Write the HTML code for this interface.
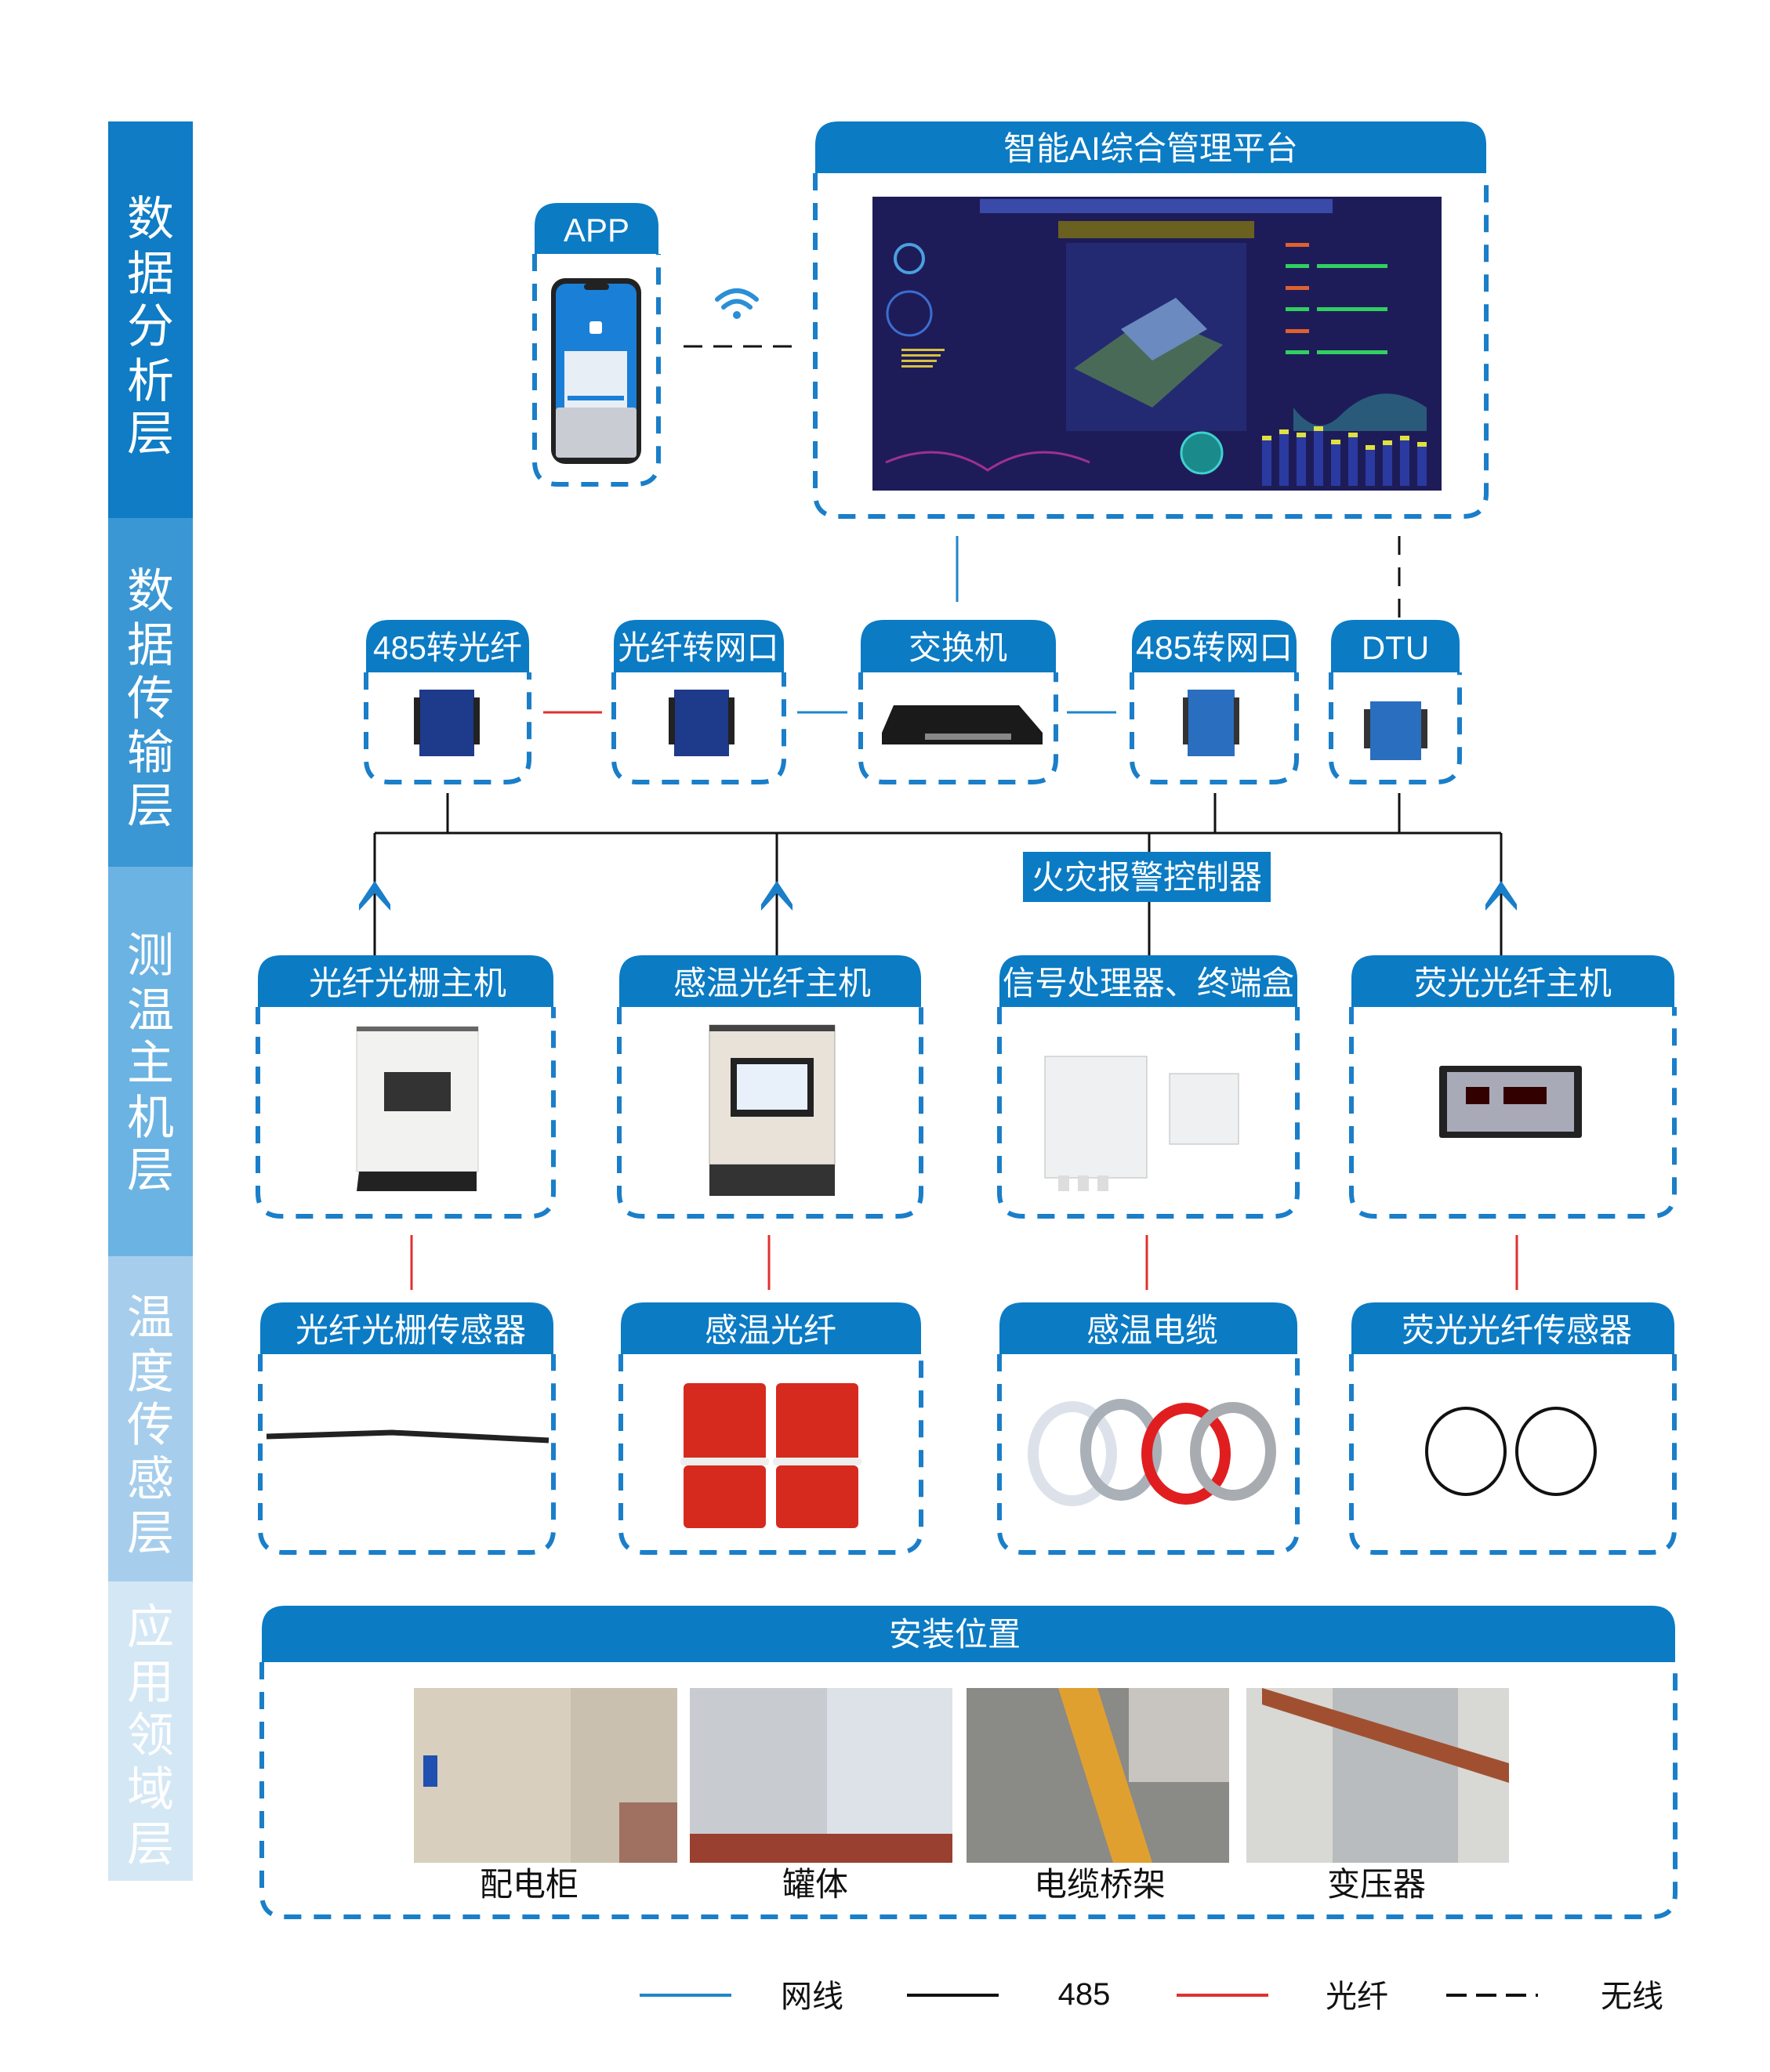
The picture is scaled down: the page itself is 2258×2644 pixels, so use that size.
<!DOCTYPE html>
<html><head><meta charset="utf-8"><style>
html,body{margin:0;padding:0;background:#fff;}
svg{display:block;}
text{font-family:"Liberation Sans","Noto Sans CJK SC",sans-serif;}
</style></head><body>
<svg width="2258" height="2644" viewBox="0 0 2258 2644" xmlns="http://www.w3.org/2000/svg">
<rect width="2258" height="2644" fill="#fff"/>
<rect x="138" y="155" width="108" height="506" fill="#0f7cc5"/>
<rect x="138" y="661" width="108" height="445" fill="#3a97d4"/>
<rect x="138" y="1106" width="108" height="497" fill="#6bb3e3"/>
<rect x="138" y="1603" width="108" height="415" fill="#a6ceec"/>
<rect x="138" y="2018" width="108" height="382" fill="#d4e7f5"/>
<g fill="#fff" font-size="60" text-anchor="middle">
<text x="192" y="300">数</text><text x="192" y="370">据</text><text x="192" y="437">分</text><text x="192" y="507">析</text><text x="192" y="574">层</text>
<text x="192" y="775">数</text><text x="192" y="844">据</text><text x="192" y="912">传</text><text x="192" y="981">输</text><text x="192" y="1049">层</text>
<text x="192" y="1240">测</text><text x="192" y="1310">温</text><text x="192" y="1377">主</text><text x="192" y="1447">机</text><text x="192" y="1514">层</text>
<text x="192" y="1702">温</text><text x="192" y="1771">度</text><text x="192" y="1839">传</text><text x="192" y="1908">感</text><text x="192" y="1977">层</text>
<text x="192" y="2097">应</text><text x="192" y="2167">用</text><text x="192" y="2235">领</text><text x="192" y="2304">域</text><text x="192" y="2374">层</text>
</g>

<g fill="#0b7bc4">
<path d="M682,324 V289 Q682,259 712,259 H810 Q840,259 840,289 V324 Z"/>
<path d="M1040,221 V185 Q1040,155 1070,155 H1866 Q1896,155 1896,185 V221 Z"/>
<path d="M467,858 V821 Q467,791 497,791 H645 Q675,791 675,821 V858 Z"/>
<path d="M783,858 V821 Q783,791 813,791 H970 Q1000,791 1000,821 V858 Z"/>
<path d="M1098,858 V821 Q1098,791 1128,791 H1317 Q1347,791 1347,821 V858 Z"/>
<path d="M1444,858 V821 Q1444,791 1474,791 H1624 Q1654,791 1654,821 V858 Z"/>
<path d="M1698,858 V821 Q1698,791 1728,791 H1832 Q1862,791 1862,821 V858 Z"/>
<path d="M329,1285 V1249 Q329,1219 359,1219 H676 Q706,1219 706,1249 V1285 Z"/>
<path d="M790,1285 V1249 Q790,1219 820,1219 H1145 Q1175,1219 1175,1249 V1285 Z"/>
<path d="M1275,1285 V1249 Q1275,1219 1305,1219 H1625 Q1655,1219 1655,1249 V1285 Z"/>
<path d="M1724,1285 V1249 Q1724,1219 1754,1219 H2106 Q2136,1219 2136,1249 V1285 Z"/>
<path d="M332,1728 V1692 Q332,1662 362,1662 H676 Q706,1662 706,1692 V1728 Z"/>
<path d="M792,1728 V1692 Q792,1662 822,1662 H1145 Q1175,1662 1175,1692 V1728 Z"/>
<path d="M1275,1728 V1692 Q1275,1662 1305,1662 H1625 Q1655,1662 1655,1692 V1728 Z"/>
<path d="M1724,1728 V1692 Q1724,1662 1754,1662 H2106 Q2136,1662 2136,1692 V1728 Z"/>
<path d="M334,2121 V2079 Q334,2049 364,2049 H2107 Q2137,2049 2137,2079 V2121 Z"/>
</g>
<g fill="none" stroke="#1a7ec9" stroke-width="6" stroke-dasharray="22 16">
<path d="M682,324 V588 Q682,618 712,618 H810 Q840,618 840,588 V324"/>
<path d="M1040,221 V629 Q1040,659 1070,659 H1866 Q1896,659 1896,629 V221"/>
<path d="M467,858 V968 Q467,998 497,998 H645 Q675,998 675,968 V858"/>
<path d="M783,858 V968 Q783,998 813,998 H970 Q1000,998 1000,968 V858"/>
<path d="M1098,858 V968 Q1098,998 1128,998 H1317 Q1347,998 1347,968 V858"/>
<path d="M1444,858 V968 Q1444,998 1474,998 H1624 Q1654,998 1654,968 V858"/>
<path d="M1698,858 V968 Q1698,998 1728,998 H1832 Q1862,998 1862,968 V858"/>
<path d="M329,1285 V1522 Q329,1552 359,1552 H676 Q706,1552 706,1522 V1285"/>
<path d="M790,1285 V1522 Q790,1552 820,1552 H1145 Q1175,1552 1175,1522 V1285"/>
<path d="M1275,1285 V1522 Q1275,1552 1305,1552 H1625 Q1655,1552 1655,1522 V1285"/>
<path d="M1724,1285 V1522 Q1724,1552 1754,1552 H2106 Q2136,1552 2136,1522 V1285"/>
<path d="M332,1728 V1951 Q332,1981 362,1981 H676 Q706,1981 706,1951 V1728"/>
<path d="M792,1728 V1951 Q792,1981 822,1981 H1145 Q1175,1981 1175,1951 V1728"/>
<path d="M1275,1728 V1951 Q1275,1981 1305,1981 H1625 Q1655,1981 1655,1951 V1728"/>
<path d="M1724,1728 V1951 Q1724,1981 1754,1981 H2106 Q2136,1981 2136,1951 V1728"/>
<path d="M334,2121 V2416 Q334,2446 364,2446 H2107 Q2137,2446 2137,2416 V2121"/>
</g>
<g fill="#fff" font-size="42" text-anchor="middle">
<text x="761" y="308">APP</text>
<text x="1468" y="204">智能AI综合管理平台</text>
<text x="571" y="841" textLength="190" lengthAdjust="spacingAndGlyphs">485转光纤</text>
<text x="891" y="841" textLength="205" lengthAdjust="spacingAndGlyphs">光纤转网口</text>
<text x="1222" y="841">交换机</text>
<text x="1549" y="841" textLength="200" lengthAdjust="spacingAndGlyphs">485转网口</text>
<text x="1780" y="841">DTU</text>
<text x="520" y="1269">光纤光栅主机</text>
<text x="985" y="1269">感温光纤主机</text>
<text x="1465" y="1269" textLength="372" lengthAdjust="spacingAndGlyphs">信号处理器、终端盒</text>
<text x="1930" y="1269">荧光光纤主机</text>
<text x="524" y="1712">光纤光栅传感器</text>
<text x="983" y="1712">感温光纤</text>
<text x="1470" y="1712">感温电缆</text>
<text x="1935" y="1712">荧光光纤传感器</text>
<text x="1218" y="2100">安装位置</text>
</g>

<g stroke="#111" stroke-width="3" fill="none">
<path d="M478,1063 H1915"/>
<path d="M571,1012 V1063 M1550,1012 V1063 M1785,1012 V1063"/>
<path d="M478,1063 V1219 M991,1063 V1219 M1915,1063 V1219"/>
<path d="M1466,1063 V1087 M1466,1151 V1219"/>
<path d="M1785,684 V791" stroke-dasharray="24 16"/>
<path d="M872,442 H1012" stroke-dasharray="24 14"/>
</g>
<g stroke="#1f86c9" stroke-width="3">
<path d="M1221,684 V768 M1017,909 H1081 M1361,909 H1424"/>
</g>
<g stroke="#e03030" stroke-width="3">
<path d="M693,909 H768 M525,1576 V1646 M981,1576 V1646 M1463,1576 V1646 M1935,1576 V1646"/>
</g>
<g fill="#1a7ec9">
<path d="M458,1154 L478,1124 L498,1154 L498,1162 L478,1140 L458,1162 Z"/>
<path d="M971,1154 L991,1124 L1011,1154 L1011,1162 L991,1140 L971,1162 Z"/>
<path d="M1895,1154 L1915,1124 L1935,1154 L1935,1162 L1915,1140 L1895,1162 Z"/>
</g>
<rect x="1305" y="1087" width="316" height="64" fill="#0b7bc4"/>
<text x="1463" y="1134" fill="#fff" font-size="42" text-anchor="middle">火灾报警控制器</text>

<g fill="none" stroke="#2a8fd6" stroke-width="6" stroke-linecap="round">
<path d="M915,382 Q940,360 965,382"/>
<path d="M923,392 Q940,377 957,392"/>
</g>
<circle cx="940" cy="402" r="5" fill="#2a8fd6"/>

<rect x="703" y="355" width="115" height="237" rx="18" fill="#222"/>
<rect x="709" y="362" width="103" height="222" rx="13" fill="#1a7fd6"/>
<rect x="709" y="520" width="103" height="64" rx="4" fill="#c9ccd3"/>
<rect x="720" y="448" width="80" height="72" fill="#e8eef6"/>
<rect x="724" y="505" width="72" height="6" fill="#1a7fd6"/>
<rect x="752" y="410" width="16" height="16" rx="3" fill="#fff"/>
<rect x="745" y="362" width="32" height="8" rx="4" fill="#222"/>

<rect x="1113" y="251" width="726" height="375" fill="#1e1c58"/>
<rect x="1250" y="254" width="450" height="18" fill="#3a4aa8"/>
<rect x="1350" y="282" width="250" height="22" fill="#6a6020"/>
<rect x="1360" y="310" width="230" height="240" fill="#232a72"/>
<path d="M1370,470 L1470,400 L1560,440 L1470,520 Z" fill="#4a6a58"/>
<path d="M1430,420 L1500,380 L1540,420 L1470,460 Z" fill="#6a8ac0"/>
<circle cx="1160" cy="330" r="18" fill="none" stroke="#4aa0e0" stroke-width="4"/>
<circle cx="1160" cy="400" r="28" fill="none" stroke="#3b6ed0" stroke-width="3"/>
<g fill="#d8c040"><rect x="1150" y="445" width="55" height="3"/><rect x="1150" y="452" width="50" height="3"/><rect x="1150" y="459" width="45" height="3"/><rect x="1150" y="466" width="40" height="3"/></g>
<g fill="#e06030"><rect x="1640" y="310" width="30" height="5"/><rect x="1640" y="365" width="30" height="5"/><rect x="1640" y="420" width="30" height="5"/></g>
<g fill="#30d060"><rect x="1640" y="337" width="30" height="5"/><rect x="1640" y="392" width="30" height="5"/><rect x="1640" y="447" width="30" height="5"/><rect x="1680" y="337" width="90" height="5"/><rect x="1680" y="392" width="90" height="5"/><rect x="1680" y="447" width="90" height="5"/></g>
<path d="M1650,520 Q1680,560 1710,530 Q1760,480 1820,520 V550 H1650 Z" fill="#2a5a7a"/>
<path d="M1130,590 Q1200,560 1260,600 Q1320,560 1390,590" fill="none" stroke="#a03090" stroke-width="3"/>
<circle cx="1533" cy="578" r="26" fill="#1a8a8a" stroke="#40d0d0" stroke-width="3"/>
<g fill="#2a3aa0"><rect x="1610" y="560" width="12" height="60"/><rect x="1632" y="552" width="12" height="68"/><rect x="1654" y="556" width="12" height="64"/><rect x="1676" y="548" width="12" height="72"/><rect x="1698" y="565" width="12" height="55"/><rect x="1720" y="556" width="12" height="64"/><rect x="1742" y="572" width="12" height="48"/><rect x="1764" y="566" width="12" height="54"/><rect x="1786" y="560" width="12" height="60"/><rect x="1808" y="568" width="12" height="52"/></g>
<g fill="#e0e040"><rect x="1610" y="556" width="12" height="6"/><rect x="1632" y="548" width="12" height="6"/><rect x="1654" y="552" width="12" height="6"/><rect x="1676" y="544" width="12" height="6"/><rect x="1698" y="561" width="12" height="6"/><rect x="1720" y="552" width="12" height="6"/><rect x="1742" y="568" width="12" height="6"/><rect x="1764" y="562" width="12" height="6"/><rect x="1786" y="556" width="12" height="6"/><rect x="1808" y="564" width="12" height="6"/></g>

<rect x="535" y="880" width="70" height="85" fill="#1e3a8a"/><rect x="528" y="890" width="8" height="60" fill="#222"/><rect x="604" y="890" width="8" height="60" fill="#222"/>
<rect x="860" y="880" width="70" height="85" fill="#1e3a8a"/><rect x="853" y="890" width="8" height="60" fill="#222"/><rect x="929" y="890" width="8" height="60" fill="#222"/>
<path d="M1125,935 L1140,900 H1300 L1330,935 V950 H1125 Z" fill="#1a1a1a"/><rect x="1180" y="936" width="110" height="8" fill="#888"/>
<rect x="1515" y="880" width="60" height="85" fill="#2a6ec0"/><rect x="1509" y="890" width="7" height="60" fill="#333"/><rect x="1574" y="890" width="7" height="60" fill="#333"/>
<rect x="1748" y="895" width="65" height="75" fill="#2a6ec0"/><rect x="1740" y="905" width="8" height="50" fill="#333"/><rect x="1813" y="905" width="8" height="50" fill="#333"/>

<rect x="455" y="1310" width="155" height="185" fill="#f2f2f0" stroke="#ccc"/><rect x="455" y="1310" width="155" height="6" fill="#666"/>
<rect x="490" y="1368" width="85" height="50" fill="#333"/><path d="M458,1495 H608 V1520 H455 Z" fill="#222"/>
<rect x="905" y="1308" width="160" height="178" fill="#e8e2d8" stroke="#aaa"/><rect x="905" y="1308" width="160" height="8" fill="#444"/>
<rect x="932" y="1350" width="106" height="75" fill="#222"/><rect x="940" y="1358" width="90" height="58" fill="#e8f0fa"/>
<path d="M905,1486 H1065 V1526 H905 Z" fill="#333"/>
<rect x="1333" y="1348" width="130" height="155" fill="#eef0f2" stroke="#bbb"/>
<rect x="1350" y="1500" width="14" height="20" fill="#ddd"/><rect x="1375" y="1500" width="14" height="20" fill="#ddd"/><rect x="1400" y="1500" width="14" height="20" fill="#ddd"/>
<rect x="1492" y="1370" width="88" height="90" fill="#eef0f2" stroke="#bbb"/>
<rect x="1836" y="1360" width="182" height="92" rx="3" fill="#222"/><rect x="1846" y="1368" width="162" height="76" fill="#a8aab8"/>
<rect x="1870" y="1387" width="30" height="22" fill="#300"/><rect x="1918" y="1387" width="55" height="22" fill="#300"/>

<path d="M340,1833 L500,1828 L700,1838" stroke="#222" stroke-width="7" fill="none"/>
<g fill="#d62a1e"><rect x="872" y="1765" width="105" height="100" rx="6"/><rect x="990" y="1765" width="105" height="100" rx="6"/><rect x="872" y="1870" width="105" height="80" rx="6"/><rect x="990" y="1870" width="105" height="80" rx="6"/></g>
<g fill="#eee"><rect x="868" y="1860" width="113" height="10" rx="4"/><rect x="986" y="1860" width="113" height="10" rx="4"/></g>
<g fill="none" stroke-width="14"><ellipse cx="1368" cy="1855" rx="50" ry="60" stroke="#dde2ea"/><ellipse cx="1430" cy="1850" rx="45" ry="58" stroke="#aab0b8"/><ellipse cx="1513" cy="1855" rx="50" ry="58" stroke="#e01e20"/><ellipse cx="1573" cy="1852" rx="48" ry="56" stroke="#a8acb0"/></g>
<g fill="none" stroke="#111" stroke-width="4"><ellipse cx="1870" cy="1852" rx="50" ry="55"/><ellipse cx="1985" cy="1852" rx="50" ry="55"/></g>

<rect x="528" y="2154" width="336" height="223" fill="#c9c0b0"/><rect x="528" y="2154" width="200" height="223" fill="#d8cfbe"/><rect x="540" y="2240" width="18" height="40" fill="#2050b0"/><rect x="790" y="2300" width="74" height="77" fill="#a07060"/>
<rect x="880" y="2154" width="335" height="223" fill="#dde2e8"/><rect x="880" y="2154" width="175" height="223" fill="#c8ccd0"/><rect x="880" y="2340" width="335" height="37" fill="#9a4030"/>
<rect x="1233" y="2154" width="335" height="223" fill="#8a8a86"/><path d="M1350,2154 L1400,2154 L1470,2377 L1420,2377 Z" fill="#e0a030"/><rect x="1440" y="2154" width="128" height="120" fill="#c8c4c0"/>
<rect x="1590" y="2154" width="335" height="223" fill="#d8d8d4"/><rect x="1700" y="2154" width="160" height="223" fill="#b8bcbe"/><path d="M1610,2154 L1925,2250 V2275 L1610,2175 Z" fill="#a05030"/>
<g fill="#111" font-size="42" text-anchor="middle">
<text x="675" y="2419">配电柜</text><text x="1040" y="2419">罐体</text><text x="1403" y="2419">电缆桥架</text><text x="1756" y="2419">变压器</text>
</g>

<g stroke-width="4"><path d="M816,2546 H933" stroke="#1f86c9"/><path d="M1157,2546 H1274" stroke="#111"/><path d="M1501,2546 H1618" stroke="#e03030"/><path d="M1845,2546 H1962" stroke="#111" stroke-dasharray="26 12"/></g>
<g fill="#111" font-size="40" text-anchor="middle">
<text x="1036" y="2561">网线</text><text x="1383" y="2558">485</text><text x="1731" y="2561">光纤</text><text x="2082" y="2561">无线</text>
</g>
</svg>
</body></html>
